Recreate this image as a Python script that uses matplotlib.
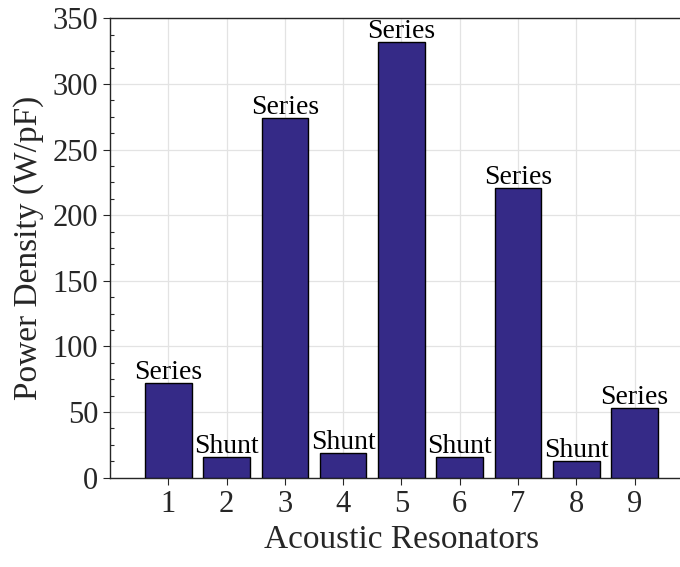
import matplotlib
matplotlib.use("Agg")
import matplotlib.pyplot as plt
from matplotlib.ticker import MultipleLocator

resonators = [1, 2, 3, 4, 5, 6, 7, 8, 9]
power_density = [72, 15.5, 274, 19, 332, 16, 221, 12.7, 53]
branch = ["Series", "Shunt", "Series", "Shunt", "Series", "Shunt", "Series", "Shunt", "Series"]

plt.rcParams["font.family"] = ["Liberation Serif", "DejaVu Serif"]

fig = plt.figure(figsize=(6.8, 5.67), dpi=100)
ax = fig.add_axes([0.1618, 0.1575, 0.857, 0.8102])

bar_color = "#352a87"
ax.bar(resonators, power_density, width=0.8, color=bar_color,
       edgecolor="black", linewidth=1.0, zorder=3)

for x, y, name in zip(resonators, power_density, branch):
    ax.text(x, y + 3.0, name, ha="center", va="baseline", fontsize=20,
            color="black", zorder=4)

ax.set_xlim(0, 10)
ax.set_ylim(0, 350)
ax.set_xticks(resonators)
ax.yaxis.set_major_locator(MultipleLocator(50))
ax.yaxis.set_minor_locator(MultipleLocator(12.5))

ax.grid(True, which="major", color="#e3e3e3", linewidth=0.9, zorder=0)
ax.set_axisbelow(True)

ax.tick_params(axis="both", which="major", labelsize=22, colors="#262626",
               direction="out", length=5, width=0.8)
ax.tick_params(axis="y", which="minor", direction="in", length=3, width=0.8,
               colors="#262626")

for side in ("left", "bottom", "top"):
    ax.spines[side].set_color("#262626")
    ax.spines[side].set_linewidth(1.0)
ax.spines["right"].set_visible(False)

ax.set_xlabel("Acoustic Resonators", fontsize=24, color="#262626", labelpad=4)
ax.set_ylabel("Power Density (W/pF)", fontsize=24, color="#262626", labelpad=6)

fig.savefig("out.png", dpi=100)
